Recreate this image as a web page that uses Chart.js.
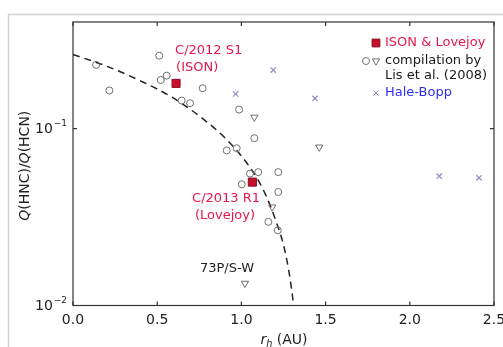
<!DOCTYPE html>
<html>
<head>
<meta charset="utf-8">
<script src="https://cdn.jsdelivr.net/npm/chart.js@4.4.1/dist/chart.umd.min.js"></script>
<style>
  html, body { margin: 0; padding: 0; background: #fff; }
</style>
</head>
<body>
<canvas id="graph" width="503" height="347"></canvas>
<script>
// compilation by Lis et al. (2008): circles
const lisCircleX = [0.137, 0.216, 0.512, 0.521, 0.556, 0.645, 0.695, 0.770, 0.913, 0.972,
                    0.986, 1.077, 1.051, 1.100, 1.219, 1.002, 1.219, 1.160, 1.216];
const lisCircleY = [0.229, 0.164, 0.258, 0.188, 0.199, 0.144, 0.139, 0.169, 0.0752, 0.0774,
                    0.128, 0.0882, 0.0556, 0.0567, 0.0567, 0.0484, 0.0438, 0.0297, 0.0266];
// compilation by Lis et al. (2008): triangles
const lisTriX = [1.077, 1.462, 1.183, 1.021];
const lisTriY = [0.1158, 0.0785, 0.036, 0.01334];
// Hale-Bopp
const haleBoppX = [0.966, 1.437, 1.189, 2.175, 2.411];
const haleBoppY = [0.157, 0.148, 0.214, 0.0538, 0.0527];
// ISON & Lovejoy
const cometNames = ["ISON", "Lovejoy"];
const cometX = [0.612, 1.065];
const cometY = [0.180, 0.0498];
// dashed trend
const trendX = [0.0, 0.2, 0.4, 0.6, 0.8, 0.9, 1.0, 1.1, 1.15, 1.2, 1.25, 1.28, 1.3, 1.31];
const trendY = [0.262, 0.225, 0.186, 0.148, 0.108, 0.089, 0.070, 0.051, 0.041, 0.031, 0.022, 0.016, 0.012, 0.0100];

const xTicks = [0, 0.5, 1.0, 1.5, 2.0, 2.5];
const yTicks = [0.01, 0.1];
const yTickExp = ["\u22122", "\u22121"];

const FONT = '"DejaVu Sans", sans-serif';
const RED = "#e8174c";
const BLUE = "#2f2ff0";
const GRAY = "#707070";
const HB = "#8c8cc4";

const toPoints = (xs, ys) => xs.map((x, i) => ({ x: x, y: ys[i] }));

// write a run of [text, italic, subscript] pieces starting at x
function drawRuns(ctx, runs, x, y, size) {
  runs.forEach(([t, it, sub]) => {
    const s = sub ? size * 0.7 : size;
    ctx.font = (it ? "italic " : "") + s + "px " + FONT;
    ctx.fillText(t, x, sub ? y + size * 0.3 : y);
    x += ctx.measureText(t).width;
  });
}
function runsWidth(ctx, runs, size) {
  let w = 0;
  runs.forEach(([t, it, sub]) => {
    const s = sub ? size * 0.7 : size;
    ctx.font = (it ? "italic " : "") + s + "px " + FONT;
    w += ctx.measureText(t).width;
  });
  return w;
}

const figurePlugin = {
  id: "figure",
  beforeDraw(chart) {
    const ctx = chart.ctx;
    ctx.save();
    ctx.fillStyle = "#fff";
    ctx.fillRect(0, 0, chart.width, chart.height);
    ctx.strokeStyle = "#d2d2d2";
    ctx.lineWidth = 1.5;
    ctx.beginPath();
    ctx.moveTo(8.5, chart.height);
    ctx.lineTo(8.5, 14.5);
    ctx.lineTo(chart.width, 14.5);
    ctx.stroke();
    ctx.restore();
  },
  afterDraw(chart) {
    const { ctx, chartArea: a } = chart;
    const xs = chart.scales.x, ys = chart.scales.y;
    ctx.save();

    // frame + inward ticks
    ctx.strokeStyle = "#333";
    ctx.lineWidth = 1.2;
    ctx.strokeRect(a.left, a.top, a.right - a.left, a.bottom - a.top);
    ctx.beginPath();
    xTicks.forEach((v) => {
      const px = xs.getPixelForValue(v);
      ctx.moveTo(px, a.bottom); ctx.lineTo(px, a.bottom - 4);
      ctx.moveTo(px, a.top); ctx.lineTo(px, a.top + 4);
    });
    yTicks.forEach((v) => {
      const py = ys.getPixelForValue(v);
      ctx.moveTo(a.left, py); ctx.lineTo(a.left + 4, py);
      ctx.moveTo(a.right, py); ctx.lineTo(a.right - 4, py);
    });
    ctx.stroke();

    // y tick labels 10^n
    ctx.fillStyle = "#222";
    ctx.textBaseline = "middle";
    ctx.textAlign = "left";
    yTicks.forEach((v, i) => {
      const py = ys.getPixelForValue(v);
      ctx.font = "14px " + FONT;
      const w1 = ctx.measureText("10").width;
      const x0 = a.left - 38;
      ctx.fillText("10", x0, py + 1);
      ctx.font = "9px " + FONT;
      ctx.fillText(yTickExp[i], x0 + w1 + 1, py - 5);
    });

    // axis titles
    const yRuns = [["Q", true], ["(HNC)/", false], ["Q", true], ["(HCN)", false]];
    ctx.save();
    ctx.translate(25, (a.top + a.bottom) / 2 + 2);
    ctx.rotate(-Math.PI / 2);
    drawRuns(ctx, yRuns, -runsWidth(ctx, yRuns, 14) / 2, 0, 14);
    ctx.restore();
    const xRuns = [["r", true], ["h", true, true], [" (AU)", false]];
    drawRuns(ctx, xRuns, 284 - runsWidth(ctx, xRuns, 14) / 2, 340, 14);

    // comet annotations
    const note = (t, xv, yv, color) => {
      ctx.fillStyle = color;
      ctx.font = "13px " + FONT;
      ctx.fillText(t, xs.getPixelForValue(xv), ys.getPixelForValue(yv));
    };
    note("C/2012 S1", 0.606, 0.275, RED);
    note("(ISON)", 0.612, 0.221, RED);
    note("C/2013 R1", 0.707, 0.0404, RED);
    note("(Lovejoy)", 0.724, 0.0324, RED);
    note("73P/S-W", 0.754, 0.01626, "#222");

    // legend
    const lx = 385;
    const mark = (style, x, y, r, stroke, fill, rot) => {
      ctx.strokeStyle = stroke;
      ctx.fillStyle = fill;
      Chart.helpers.drawPoint(ctx, { pointStyle: style, radius: r, rotation: rot || 0, borderWidth: 1 }, x, y);
    };
    ctx.lineWidth = 1;
    mark("rect", 376, 43, 5.5, "#8b0a1e", "#c8102e");
    mark("circle", 366, 61, 3.5, GRAY, "rgba(0,0,0,0)");
    mark("triangle", 376, 61, 4.2, GRAY, "rgba(0,0,0,0)", 180);
    mark("crossRot", 376, 93, 3.5, HB, "rgba(0,0,0,0)");
    ctx.font = "13px " + FONT;
    ctx.fillStyle = RED;
    ctx.fillText(cometNames[0] + " & " + cometNames[1], lx, 43);
    ctx.fillStyle = "#1a1a1a";
    ctx.fillText("compilation by", lx, 61);
    ctx.fillText("Lis et al. (2008)", lx, 76);
    ctx.fillStyle = BLUE;
    ctx.fillText("Hale-Bopp", lx, 93);

    ctx.restore();
  },
};

const graph = document.getElementById("graph");

new Chart(graph, {
  type: "scatter",
  data: {
    datasets: [
      {
        label: "ISON & Lovejoy",
        data: toPoints(cometX, cometY),
        pointStyle: "rect",
        pointRadius: 5.7,
        backgroundColor: "#c8102e",
        borderColor: "#8b0a1e",
        borderWidth: 1,
        order: 0,
      },
      {
        label: "Lis et al. (2008)",
        data: toPoints(lisCircleX, lisCircleY),
        pointStyle: "circle",
        pointRadius: 3.5,
        backgroundColor: "rgba(0,0,0,0)",
        borderColor: GRAY,
        borderWidth: 1,
        order: 1,
      },
      {
        label: "Lis et al. (2008) limits",
        data: toPoints(lisTriX, lisTriY),
        pointStyle: "triangle",
        pointRotation: 180,
        pointRadius: 4.2,
        backgroundColor: "rgba(0,0,0,0)",
        borderColor: GRAY,
        borderWidth: 1,
        order: 2,
      },
      {
        label: "Hale-Bopp",
        data: toPoints(haleBoppX, haleBoppY),
        pointStyle: "crossRot",
        pointRadius: 3.8,
        borderColor: HB,
        borderWidth: 1.2,
        order: 3,
      },
      {
        label: "trend",
        data: toPoints(trendX, trendY),
        showLine: true,
        pointRadius: 0,
        borderColor: "#222",
        borderWidth: 1.5,
        borderDash: [7, 5],
        cubicInterpolationMode: "monotone",
        order: 4,
      },
    ],
  },
  options: {
    responsive: false,
    animation: false,
    clip: false,
    layout: {
      autoPadding: false,
      padding: { left: 0, right: 9, top: 22, bottom: 0 },
    },
    scales: {
      x: {
        type: "linear",
        min: 0,
        max: 2.5,
        grid: { display: false, drawTicks: false },
        border: { display: false },
        afterBuildTicks: (s) => { s.ticks = xTicks.map((v) => ({ value: v })); },
        afterFit: (s) => {
          s.height = 41.5;
          s.paddingLeft = 0;
          s.paddingRight = 0;
        },
        ticks: {
          padding: 6,
          color: "#222",
          font: { family: FONT, size: 14 },
          maxRotation: 0,
          callback: (v) => Number(v).toFixed(1),
        },
      },
      y: {
        type: "logarithmic",
        min: 0.01,
        max: 0.4,
        grid: { display: false, drawTicks: false },
        border: { display: false },
        afterBuildTicks: (s) => { s.ticks = yTicks.map((v) => ({ value: v })); },
        afterFit: (s) => {
          s.width = 73;
          s.paddingTop = 0;
          s.paddingBottom = 0;
        },
        ticks: { display: false },
      },
    },
    plugins: {
      legend: { display: false },
      tooltip: { enabled: false },
    },
  },
  plugins: [figurePlugin],
});
</script>
</body>
</html>
